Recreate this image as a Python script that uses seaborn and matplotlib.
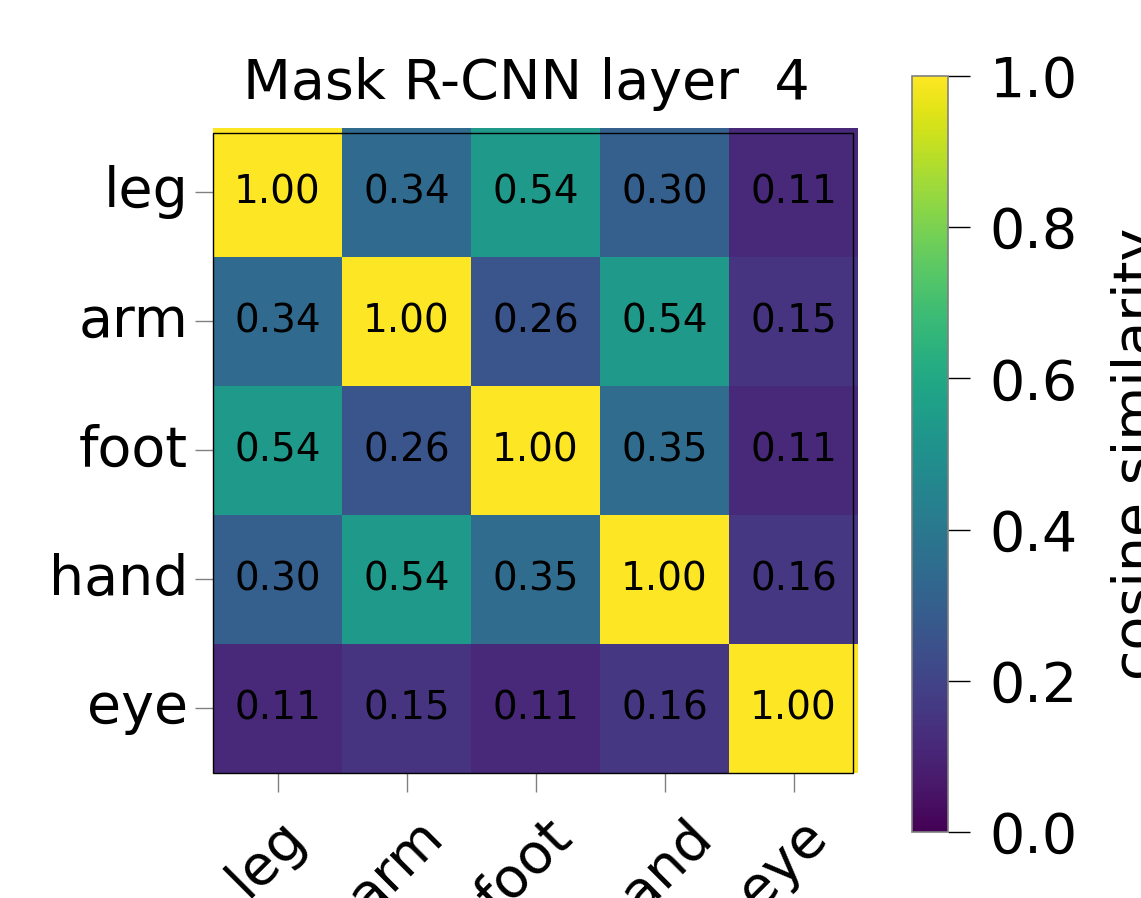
import numpy as np
import pandas as pd
import seaborn as sns
import matplotlib.pyplot as plt
import matplotlib.transforms as mtransforms
from matplotlib.patches import Rectangle

parts = ["leg", "arm", "foot", "hand", "eye"]
sim_leg = [1.00, 0.34, 0.54, 0.30, 0.11]
sim_arm = [0.34, 1.00, 0.26, 0.54, 0.15]
sim_foot = [0.54, 0.26, 1.00, 0.35, 0.11]
sim_hand = [0.30, 0.54, 0.35, 1.00, 0.16]
sim_eye = [0.11, 0.15, 0.11, 0.16, 1.00]
cbar_ticks = [0.0, 0.2, 0.4, 0.6, 0.8, 1.0]

data = pd.DataFrame([sim_leg, sim_arm, sim_foot, sim_hand, sim_eye],
                    index=parts, columns=parts)

sns.set_theme(style="white")
plt.rcParams['font.family'] = ['DejaVu Sans']
plt.rcParams['text.color'] = 'black'
plt.rcParams['axes.labelcolor'] = 'black'
plt.rcParams['xtick.labelcolor'] = 'black'
plt.rcParams['ytick.labelcolor'] = 'black'

fig = plt.figure(figsize=(11.41, 8.98), dpi=100)
ax = fig.add_axes([0.1867, 0.1392, 0.5653, 0.7183])
cax = fig.add_axes([0.7993, 0.0735, 0.0316, 0.8419])

sns.heatmap(
    data, ax=ax, cbar_ax=cax,
    cmap="viridis", vmin=0, vmax=1,
    annot=True, fmt=".2f",
    annot_kws={"fontsize": 28, "color": "black"},
    cbar_kws={"ticks": cbar_ticks},
)

# frame sits slightly inside the image at top/right, as in the original
ax.add_patch(Rectangle((0, 0), 0.9922, 0.9922, transform=ax.transAxes,
                       fill=False, edgecolor="black", linewidth=1.0,
                       clip_on=False, zorder=5))

ax.set_title("Mask R-CNN layer  4 ", fontsize=40, pad=21)
ax.set_xticklabels(parts, rotation=45, fontsize=40)
ax.set_yticklabels(parts, rotation=0, fontsize=40)
ax.tick_params(axis="y", left=True, length=13, width=1, color="gray", pad=5)
ax.tick_params(axis="x", bottom=True, length=14, width=1, color="gray", pad=12)
shift = mtransforms.ScaledTranslation(-11 / 100, 0, fig.dpi_scale_trans)
for lab in ax.get_xticklabels():
    lab.set_transform(lab.get_transform() + shift)

cbar = ax.collections[0].colorbar
cbar.outline.set_edgecolor("gray")
cbar.outline.set_linewidth(1.2)
cbar.ax.set_yticklabels([f"{t:.1f}" for t in cbar_ticks])
cbar.ax.tick_params(labelsize=40, length=16, width=1, color="black", pad=14, right=True)
cbar.set_label("cosine similarity", fontsize=40, labelpad=24)

fig.savefig("out.png", dpi=100)
